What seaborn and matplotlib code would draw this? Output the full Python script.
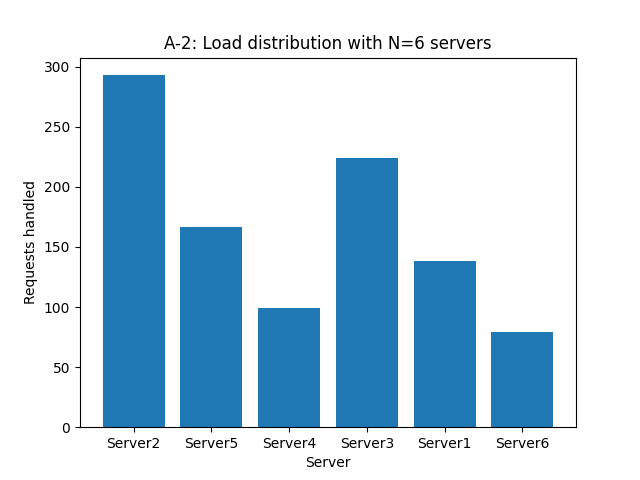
"""
Bar chart of requests handled per server.
"""

import pandas as pd
import matplotlib
matplotlib.use('Agg')
import matplotlib.pyplot as plt
import seaborn as sns

servers = ['Server2', 'Server5', 'Server4', 'Server3', 'Server1', 'Server6']
requests = [293, 167, 99, 224, 138, 79]

df = pd.DataFrame({'Server': servers, 'Requests handled': requests})

fig, ax = plt.subplots(figsize=(6.4, 4.8), dpi=100)
sns.barplot(data=df, x='Server', y='Requests handled', color='#1f77b4',
            saturation=1, width=0.8, ax=ax)
# restore matplotlib's default 5% x margins (seaborn pins limits to +-0.5)
span = len(servers) - 1 + 0.8
pad = 0.05 * span
ax.set_xlim(-0.4 - pad, len(servers) - 1 + 0.4 + pad)
ax.set_title('A-2: Load distribution with N=6 servers')
ax.set_xlabel('Server')
ax.set_ylabel('Requests handled')

plt.savefig('out.png', dpi=100)
plt.close()
